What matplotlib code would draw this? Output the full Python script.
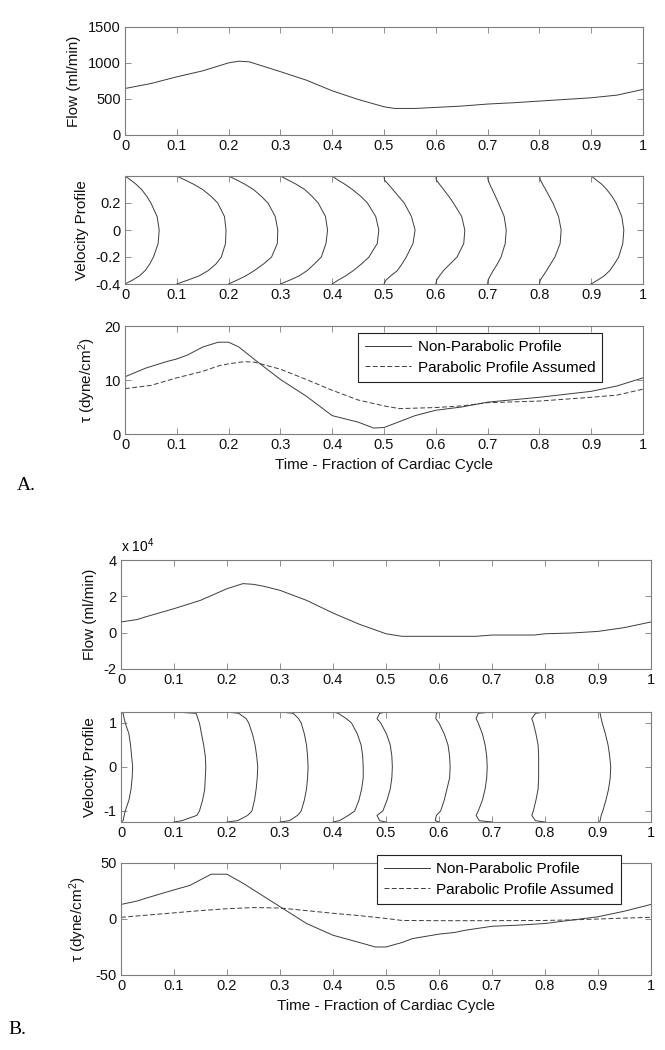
import matplotlib
matplotlib.use("Agg")
import matplotlib.pyplot as plt
import numpy as np

plt.rcParams["font.family"] = ["Liberation Sans", "DejaVu Sans"]
plt.rcParams["mathtext.fontset"] = "custom"
plt.rcParams["mathtext.rm"] = "Liberation Sans"
plt.rcParams["mathtext.it"] = "Liberation Sans:italic"
plt.rcParams["axes.unicode_minus"] = False

# ---- shared axis ticks ----
TIME_TICKS = [0, 0.1, 0.2, 0.3, 0.4, 0.5, 0.6, 0.7, 0.8, 0.9, 1.0]
TIME_LABELS = ["0", "0.1", "0.2", "0.3", "0.4", "0.5", "0.6", "0.7", "0.8", "0.9", "1"]
PROFILE_T = [0, 0.1, 0.2, 0.3, 0.4, 0.5, 0.6, 0.7, 0.8, 0.9]

# ---- panel A: flow (ml/min) ----
FLOW_A_T = [0, 0.05, 0.1, 0.15, 0.2, 0.22, 0.24, 0.3, 0.35, 0.4, 0.45, 0.5, 0.52,
            0.56, 0.6, 0.65, 0.7, 0.75, 0.8, 0.85, 0.9, 0.95, 1.0]
FLOW_A = [646, 715, 808, 891, 1002, 1025, 1016, 880, 762, 614, 494, 392, 369,
          369, 383, 402, 430, 448, 471, 494, 517, 554, 633]

# ---- panel A: velocity profiles (offset from each time mark) ----
VEL_A_R = [0.4, 0.37, 0.34, 0.3, 0.25, 0.2, 0.1, 0, -0.1, -0.2, -0.25, -0.3, -0.34, -0.37, -0.4]
VEL_A_SHAPES = [
    [0, 0.011, 0.021, 0.032, 0.042, 0.050, 0.062, 0.066, 0.064, 0.055, 0.048, 0.039, 0.028, 0.015, 0],
    [0, 0.016, 0.032, 0.050, 0.066, 0.079, 0.092, 0.095, 0.094, 0.086, 0.076, 0.061, 0.043, 0.022, 0],
    [0, 0.016, 0.031, 0.048, 0.063, 0.076, 0.090, 0.095, 0.094, 0.083, 0.068, 0.050, 0.033, 0.017, 0],
    [0, 0.015, 0.030, 0.047, 0.061, 0.073, 0.087, 0.091, 0.088, 0.079, 0.066, 0.052, 0.036, 0.019, 0],
    [0, 0.011, 0.024, 0.039, 0.055, 0.068, 0.084, 0.090, 0.087, 0.071, 0.057, 0.041, 0.026, 0.012, 0],
    [0, 0.001, 0.008, 0.017, 0.028, 0.039, 0.053, 0.060, 0.056, 0.043, 0.035, 0.026, 0.013, 0.004, 0],
    [0, 0.001, 0.007, 0.015, 0.025, 0.034, 0.050, 0.056, 0.054, 0.041, 0.028, 0.015, 0.007, 0.002, 0],
    [0, 0.001, 0.004, 0.009, 0.015, 0.021, 0.032, 0.036, 0.034, 0.026, 0.019, 0.011, 0.005, 0.001, 0],
    [0, 0.002, 0.006, 0.012, 0.019, 0.026, 0.037, 0.042, 0.040, 0.030, 0.022, 0.014, 0.007, 0.002, 0],
    [0, 0.010, 0.020, 0.030, 0.040, 0.048, 0.059, 0.063, 0.061, 0.053, 0.045, 0.036, 0.025, 0.013, 0],
]

# ---- panel A: wall shear stress (dyne/cm^2) ----
TAU_A_NP_T = [0, 0.04, 0.08, 0.1, 0.12, 0.15, 0.18, 0.2, 0.22, 0.25, 0.3, 0.35, 0.4, 0.45,
              0.48, 0.5, 0.53, 0.56, 0.6, 0.65, 0.7, 0.8, 0.9, 0.95, 1.0]
TAU_A_NP = [10.6, 12.2, 13.4, 13.9, 14.6, 16.1, 17.0, 17.0, 16.1, 13.8, 10.1, 7.0, 3.4, 2.2,
            1.1, 1.2, 2.3, 3.4, 4.4, 5.0, 5.9, 6.8, 7.9, 8.9, 10.4]
TAU_A_P_T = [0, 0.05, 0.1, 0.15, 0.18, 0.2, 0.23, 0.25, 0.3, 0.35, 0.4, 0.45, 0.5, 0.53,
             0.6, 0.65, 0.7, 0.8, 0.9, 0.95, 1.0]
TAU_A_P = [8.4, 9.0, 10.4, 11.6, 12.6, 13.0, 13.4, 13.3, 12.0, 10.1, 8.1, 6.3, 5.2, 4.7,
           4.9, 5.2, 5.8, 6.1, 6.8, 7.2, 8.3]

# ---- panel B: flow (ml/min) ----
FLOW_B_T = [0, 0.03, 0.05, 0.1, 0.15, 0.2, 0.23, 0.25, 0.27, 0.3, 0.35, 0.4, 0.45, 0.5,
            0.53, 0.6, 0.67, 0.7, 0.78, 0.8, 0.85, 0.9, 0.95, 1.0]
FLOW_B = [5900, 7200, 9000, 13200, 17800, 24200, 27000, 26600, 25500, 23300, 17800, 10800,
          4600, -600, -2000, -2000, -2000, -1300, -1300, -600, -200, 700, 2800, 5900]

# ---- panel B: velocity profiles ----
VEL_B_R = [1.25, 1.22, 1.1, 1.0, 0.75, 0.5, 0.25, 0, -0.25, -0.5, -0.75, -1.0, -1.1, -1.22, -1.25]
VEL_B_SHAPES = [
    [0, 0.004, 0.006, 0.008, 0.015, 0.018, 0.020, 0.022, 0.021, 0.019, 0.015, 0.008, 0.006, 0.004, 0],
    [0, 0.042, 0.045, 0.048, 0.052, 0.056, 0.059, 0.060, 0.059, 0.058, 0.054, 0.048, 0.043, 0.015, 0],
    [0, 0.022, 0.036, 0.041, 0.048, 0.053, 0.056, 0.058, 0.057, 0.055, 0.052, 0.047, 0.039, 0.020, 0],
    [0, 0.025, 0.035, 0.040, 0.046, 0.050, 0.052, 0.053, 0.052, 0.050, 0.046, 0.040, 0.033, 0.018, 0],
    [0, 0.010, 0.025, 0.035, 0.046, 0.053, 0.056, 0.057, 0.057, 0.054, 0.049, 0.041, 0.029, 0.012, 0],
    [0, -0.012, -0.017, -0.010, 0.001, 0.008, 0.011, 0.012, 0.011, 0.008, 0.002, -0.006, -0.017, -0.012, 0],
    [0, -0.005, -0.006, 0.000, 0.010, 0.017, 0.020, 0.021, 0.020, 0.015, 0.010, 0.003, -0.005, -0.007, 0],
    [0, -0.026, -0.030, -0.026, -0.018, -0.013, -0.010, -0.009, -0.010, -0.013, -0.018, -0.026, -0.030, -0.024, 0],
    [0, -0.018, -0.025, -0.022, -0.017, -0.013, -0.012, -0.012, -0.012, -0.013, -0.017, -0.022, -0.025, -0.018, 0],
    [0.003, 0.004, 0.006, 0.008, 0.014, 0.019, 0.022, 0.024, 0.023, 0.020, 0.015, 0.009, 0.006, 0.004, 0.003],
]

# ---- panel B: wall shear stress ----
TAU_B_NP_T = [0, 0.03, 0.05, 0.1, 0.13, 0.15, 0.17, 0.2, 0.23, 0.25, 0.28, 0.3, 0.33, 0.35,
              0.4, 0.45, 0.48, 0.5, 0.53, 0.55, 0.6, 0.63, 0.65, 0.7, 0.75, 0.8, 0.85, 0.9, 0.95, 1.0]
TAU_B_NP = [13, 16, 19, 26, 30, 35, 40, 40, 32, 26, 17, 11, 2, -4,
            -14.5, -21, -25, -25, -21, -17.5, -13.5, -12, -10, -6.5, -5.5, -4, -1, 2, 7, 13]
TAU_B_P_T = [0, 0.05, 0.1, 0.15, 0.2, 0.25, 0.3, 0.35, 0.4, 0.45, 0.5, 0.53, 0.6, 0.7,
             0.8, 0.85, 0.9, 0.95, 1.0]
TAU_B_P = [1.5, 3.5, 5.5, 7.5, 9.2, 10.2, 9.8, 7.5, 5.1, 3.0, 0.5, -1.3, -1.5, -1.5,
           -1.3, -0.8, 0, 0.8, 1.5]

LEGEND_LABELS = ["Non-Parabolic Profile", "Parabolic Profile Assumed"]

LINE_COLOR = "#3c3c3c"
AXIS_COLOR = "#7d7d7d"
TEXT_COLOR = "#111111"
TICK_SIZE = 10.5
LABEL_SIZE = 11
W, H = 665, 1050

fig = plt.figure(figsize=(W / 100, H / 100), dpi=100)


def add_axes(left, top, right, bottom):
    return fig.add_axes([left / W, 1 - bottom / H, (right - left) / W, (bottom - top) / H])


def style_axes(ax, yticks, ylim, ylabel, xlabel=None):
    ax.set_xlim(0, 1)
    ax.set_xticks(TIME_TICKS)
    ax.set_xticklabels(TIME_LABELS)
    ax.set_ylim(*ylim)
    ax.set_yticks(yticks)
    ax.set_yticklabels([f"{v:g}" for v in yticks])
    ax.tick_params(direction="in", top=True, right=True, length=4, width=0.6,
                   color=AXIS_COLOR, labelcolor=TEXT_COLOR, labelsize=TICK_SIZE, pad=3)
    for spine in ax.spines.values():
        spine.set_color(AXIS_COLOR)
        spine.set_linewidth(0.8)
    ax.set_ylabel(ylabel, fontsize=LABEL_SIZE, labelpad=5, color=TEXT_COLOR)
    if xlabel:
        ax.set_xlabel(xlabel, fontsize=LABEL_SIZE, labelpad=4, color=TEXT_COLOR)


def draw_profiles(ax, r, shapes):
    for t0, shape in zip(PROFILE_T, shapes):
        ax.plot(t0 + np.asarray(shape), r, color=LINE_COLOR, linewidth=0.7)


def draw_tau(ax, t_np, v_np, t_p, v_p, legend_anchor):
    l1, = ax.plot(t_np, v_np, color=LINE_COLOR, linewidth=0.7)
    l2, = ax.plot(t_p, v_p, color=LINE_COLOR, linewidth=0.7, linestyle=(0, (5, 2.5)))
    leg = fig.legend([l1, l2], LEGEND_LABELS, loc="upper right",
                     bbox_to_anchor=(legend_anchor[0] / W, 1 - legend_anchor[1] / H),
                     bbox_transform=fig.transFigure, fontsize=LABEL_SIZE, fancybox=False,
                     framealpha=1, edgecolor="#222222", handlelength=3.0,
                     handletextpad=0.45, borderpad=0.45, labelspacing=0.45, borderaxespad=0)
    leg.get_frame().set_linewidth(0.8)


TAU_LABEL = "\u03c4 (dyne/cm$^2$)"
XLABEL = "Time - Fraction of Cardiac Cycle"

# ---------------- Panel A ----------------
ax = add_axes(125, 27, 643, 135)
ax.plot(FLOW_A_T, FLOW_A, color=LINE_COLOR, linewidth=0.7)
style_axes(ax, [0, 500, 1000, 1500], (0, 1500), "Flow (ml/min)")

ax = add_axes(125, 176, 643, 284)
draw_profiles(ax, VEL_A_R, VEL_A_SHAPES)
style_axes(ax, [-0.4, -0.2, 0, 0.2], (-0.4, 0.4), "Velocity Profile")

ax = add_axes(125, 326, 643, 434)
draw_tau(ax, TAU_A_NP_T, TAU_A_NP, TAU_A_P_T, TAU_A_P, (602, 333))
style_axes(ax, [0, 10, 20], (0, 20), TAU_LABEL, XLABEL)

fig.text(17 / W, 1 - 486 / H, "A.", family="Liberation Serif", fontsize=14, va="center")

# ---------------- Panel B ----------------
ax = add_axes(121, 560, 651, 669)
ax.plot(FLOW_B_T, np.asarray(FLOW_B) / 1e4, color=LINE_COLOR, linewidth=0.7)
style_axes(ax, [-2, 0, 2, 4], (-2, 4), "Flow (ml/min)")
fig.text(121 / W, 1 - 546 / H, "x 10$^4$", fontsize=10, va="center", ha="left")

ax = add_axes(121, 712, 651, 822)
draw_profiles(ax, VEL_B_R, VEL_B_SHAPES)
style_axes(ax, [-1, 0, 1], (-1.25, 1.25), "Velocity Profile")

ax = add_axes(121, 863, 651, 975)
draw_tau(ax, TAU_B_NP_T, TAU_B_NP, TAU_B_P_T, TAU_B_P, (621, 855))
style_axes(ax, [-50, 0, 50], (-50, 50), TAU_LABEL, XLABEL)

fig.text(8 / W, 1 - 1029 / H, "B.", family="Liberation Serif", fontsize=14, va="center")

fig.savefig("out.png", dpi=100)
